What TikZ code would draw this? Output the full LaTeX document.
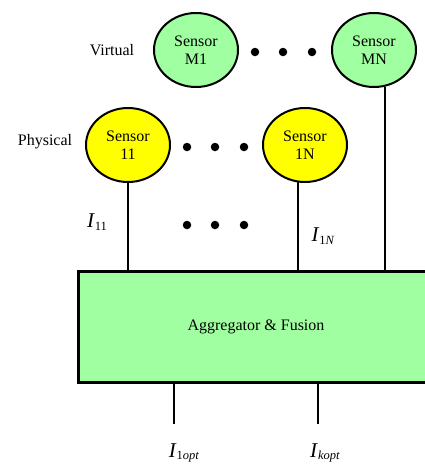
\documentclass[tikz,border=0pt]{standalone}
\usepackage{fontspec}
\setmainfont{Liberation Serif}
\usetikzlibrary{positioning,shapes}
\definecolor{virtgreen}{RGB}{160,255,160}
\definecolor{physyellow}{RGB}{255,255,0}
\newcommand{\isig}[1]{{\fontsize{21}{21}\selectfont\textit{I}}\raisebox{-0.6ex}{\fontsize{12.5}{12.5}\selectfont #1}}

\begin{document}
\begin{tikzpicture}[x=1pt,y=-1pt,
    sensor/.style={ellipse, draw, line width=2pt, minimum width=84pt, minimum height=74pt,
        inner sep=0pt, align=center, font=\fontsize{16}{18}\selectfont},
    tag/.style={font=\fontsize{16}{18}\selectfont},
    wire/.style={line width=1.7pt},
    dot/.style={circle, fill=black, inner sep=0pt, minimum size=8.5pt}]
    \useasboundingbox (0,0) rectangle (424,464);

    % virtual layer
    \node[tag] (virtual) at (112,50) {Virtual};
    \node[sensor, fill=virtgreen] (sM1) at (196,50) {Sensor\\M1};
    \node[sensor, fill=virtgreen] (sMN) at (374,50) {Sensor\\MN};
    \foreach \x in {255,283,312} \node[dot] at (\x,52) {};

    % physical layer
    \node[tag] (physical) at (45,142) {Physical};
    \node[sensor, fill=physyellow] (s11) at (128,145) {Sensor\\11};
    \node[sensor, fill=physyellow] (s1N) at (305,145) {Sensor\\1N};
    \foreach \x in {187,215,244} {
        \node[dot] at (\x,147) {};
        \node[dot] at (\x,225) {};
    }

    % aggregator
    \node[rectangle, draw, line width=3pt, fill=virtgreen, minimum width=356pt, minimum height=111pt,
        font=\fontsize{16}{18}\selectfont] (agg) at (256,326.5) {Aggregator \& Fusion};

    \draw[wire] (s11.south) -- (s11.south |- agg.north);
    \draw[wire] (s1N.-101) -- (s1N.-101 |- agg.north);
    \draw[wire] (sMN.-73) -- (sMN.-73 |- agg.north);
    \node (i11) at (97,222) {\isig{11}};
    \node (i1N) at (323,236) {\isig{1\textit{N}}};

    % outputs
    \coordinate (o1) at (174,424);
    \coordinate (ok) at (318,424);
    \draw[wire] (o1 |- agg.south) -- (o1);
    \draw[wire] (ok |- agg.south) -- (ok);
    \node (i1opt) at (184,453) {\isig{1\textit{opt}}};
    \node (ikopt) at (325,453) {\isig{\textit{kopt}}};
\end{tikzpicture}
\end{document}
